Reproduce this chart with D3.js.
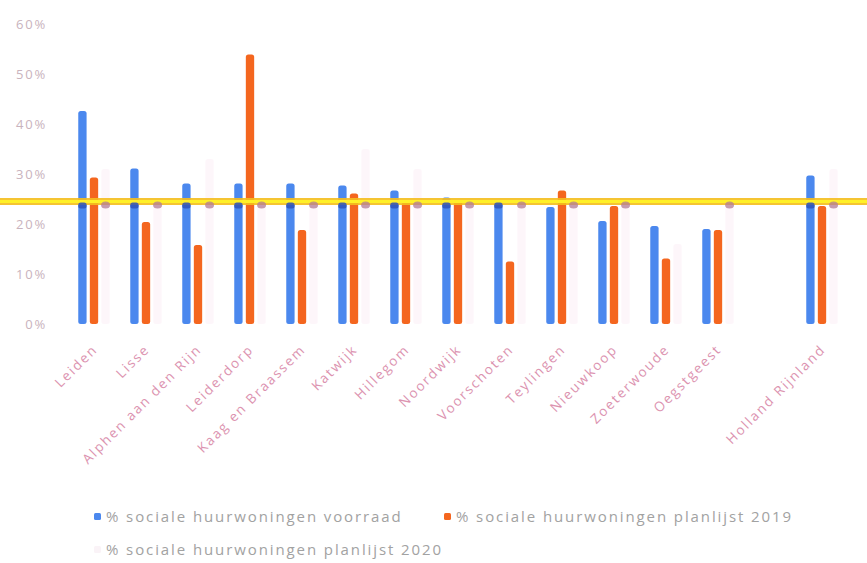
<!DOCTYPE html>
<html><head><meta charset="utf-8">
<script src="https://cdn.jsdelivr.net/npm/d3@7"></script>
<style>
body{margin:0;background:#fff;}
svg{display:block;}
text{font-family:"Open Sans","Liberation Sans",sans-serif;}
</style></head>
<body><svg id="c" width="867" height="563"></svg>
<script>
const categories = ["Leiden","Lisse","Alphen aan den Rijn","Leiderdorp","Kaag en Braassem","Katwijk","Hillegom","Noordwijk","Voorschoten","Teylingen","Nieuwkoop","Zoeterwoude","Oegstgeest","","Holland Rijnland"];
const voorraad   = [42.6,31.1,28.1,28.1,28.1,27.7,26.7,25.3,24.4,23.4,20.6,19.6,19.0,null,29.7];
const planlijst2019 = [29.3,20.4,15.8,53.9,18.8,26.1,24.4,24.8,12.5,26.7,23.6,13.1,18.8,null,23.6];
const planlijst2020 = [31,24,33,24,24,35,31,24,24,24,24,16,23.5,null,31];
const seriesNames = ["% sociale huurwoningen voorraad","% sociale huurwoningen planlijst 2019","% sociale huurwoningen planlijst 2020"];
const yTicks = [0,10,20,30,40,50,60];
const targetValue = 24.5;

const svg = d3.select("#c");
const x = d3.scaleBand().domain(categories).range([68,848]).paddingInner(0);
const sub = d3.scaleBand().domain([0,1,2]).range([-15.75,15.75]).paddingInner(0.28);
const y = d3.scaleLinear().domain([0,60]).range([324,24]);

// y tick labels
const yAxis = d3.axisLeft(y).tickValues(yTicks).tickFormat(d=>d+"%").tickSize(0).tickPadding(0);
const ga = svg.append("g").attr("transform","translate(47,0)").call(yAxis);
ga.select(".domain").remove();
ga.selectAll("text").attr("fill","#c9b3bd").style("font-size","13px").style("letter-spacing","1.8px").attr("font-family","Open Sans, sans-serif");

const series = [voorraad, planlijst2019, planlijst2020];
const colors = ["#4b88ee","#f4661f","#f2c4dd"];
const opac = [1,1,0.16];
series.forEach((vals,si)=>{
  svg.append("g").selectAll("rect").data(categories.map((c,i)=>({c,v:vals[i]})).filter(d=>d.v!=null))
    .join("rect")
    .attr("x",d=>x(d.c)+x.bandwidth()/2+sub(si))
    .attr("width",sub.bandwidth())
    .attr("y",d=>y(d.v))
    .attr("height",d=>y(0)-y(d.v))
    .attr("rx",2.5)
    .attr("fill",colors[si]).attr("opacity",opac[si]);
});

// target line (highlighter)
svg.append("line").attr("x1",0).attr("x2",867).attr("y1",y(targetValue)).attr("y2",y(targetValue))
  .attr("stroke","#f5be1e").attr("stroke-width",7).attr("opacity",0.9);
svg.append("line").attr("x1",0).attr("x2",867).attr("y1",y(targetValue)).attr("y2",y(targetValue))
  .attr("stroke","#fff028").attr("stroke-width",3);

// overlap marks where 2020 bars meet the line
svg.append("g").selectAll("ellipse")
  .data(categories.map((c,i)=>({c,v:planlijst2020[i]})).filter(d=>d.v!=null && d.v>=23.5))
  .join("ellipse")
  .attr("cx",d=>x(d.c)+x.bandwidth()/2+sub(2)+sub.bandwidth()/2)
  .attr("cy",y(targetValue)+3.5)
  .attr("rx",4.5).attr("ry",3.5).attr("fill","#b27c96").attr("opacity",0.75);
// overlap darkening on blue bars
svg.append("g").selectAll("rect")
  .data(categories.map((c,i)=>({c,v:voorraad[i]})).filter(d=>d.v!=null && d.v>=targetValue-1))
  .join("rect")
  .attr("x",d=>x(d.c)+x.bandwidth()/2+sub(0))
  .attr("width",sub.bandwidth())
  .attr("y",y(targetValue)+1).attr("height",6).attr("rx",2.5)
  .attr("fill","#2f54b8").attr("opacity",0.85);

// category labels
svg.append("g").selectAll("text").data(categories).join("text")
  .attr("transform",d=>`translate(${x(d)+x.bandwidth()/2+1},347) rotate(-45)`)
  .attr("text-anchor","end").attr("dy","0.35em")
  .attr("fill","#dc93b0").style("font-size","13.5px").style("letter-spacing","1.9px")
  .text(d=>d);

// legend
const leg = [
  {i:0,x:97,y:517,c:colors[0]},
  {i:1,x:447,y:517,c:colors[1]},
  {i:2,x:97,y:550,c:"#faf3f7"}
];
const lg = svg.append("g").selectAll("g").data(leg).join("g").attr("transform",d=>`translate(${d.x},${d.y})`);
lg.append("rect").attr("x",-3).attr("y",-4).attr("width",7).attr("height",7).attr("rx",1.5).attr("fill",d=>d.c);
lg.append("text").attr("x",9).attr("dy","0.35em").attr("fill","#a2a2a2").style("font-size","15px").style("letter-spacing","1.9px")
  .text(d=>seriesNames[d.i]);
</script></body></html>
